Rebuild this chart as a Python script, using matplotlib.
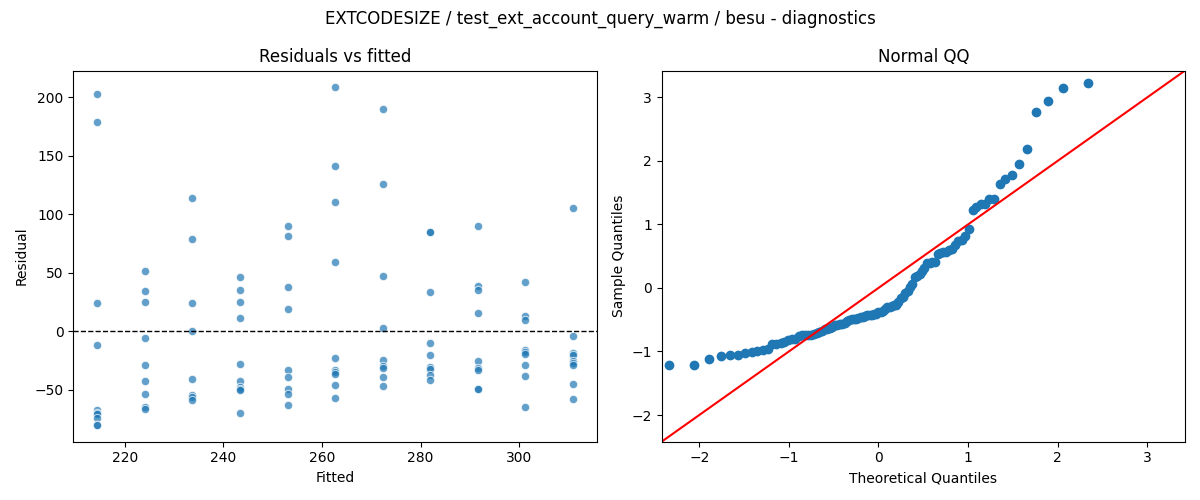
"""Residual diagnostics for EXTCODESIZE / besu: residuals vs fitted and normal QQ."""

from statistics import NormalDist

import matplotlib

matplotlib.use("Agg")
import matplotlib.pyplot as plt
import numpy as np

# Fitted value of each group (one per input level)
fitted_levels = [214.4, 224.1, 233.7, 243.3, 253.1, 262.7, 272.4, 281.9, 291.7, 301.2, 310.9]

# Residuals, one list per fitted level
resid_groups = [
    [203.0, 179.0, 24.4, -11.8, -67.0, -69.5, -71.0, -74.0, -80.0, -80.0],
    [51.6, 34.6, 25.2, -5.8, -28.9, -42.5, -53.6, -65.0, -66.2],
    [113.8, 78.9, 24.4, 0.0, -40.8, -54.5, -56.5, -58.5],
    [46.5, 35.5, 25.2, 11.6, -28.0, -42.5, -47.7, -49.1, -50.6, -69.9],
    [90.0, 81.4, 38.0, 19.3, -33.2, -39.1, -49.1, -53.4, -63.0],
    [208.2, 141.0, 110.4, 59.3, -22.9, -33.5, -35.0, -36.5, -46.0, -57.0],
    [189.5, 125.7, 47.4, 3.0, -24.3, -30.0, -31.2, -39.1, -47.0],
    [85.0, 84.6, 33.2, -10.1, -20.3, -30.9, -32.3, -37.4, -41.7],
    [90.0, 38.9, 35.5, 15.9, -25.5, -31.7, -33.1, -49.4, -49.4],
    [42.3, 12.8, 9.9, -15.8, -18.1, -19.8, -28.9, -38.3, -64.7],
    [105.2, -4.1, -18.6, -20.1, -25.8, -27.2, -28.9, -45.1, -57.9],
]

fitted = np.concatenate([[f] * len(g) for f, g in zip(fitted_levels, resid_groups)])
resid = np.concatenate([np.array(g) for g in resid_groups])

# QQ: standardized residuals against normal quantiles
sample_q = np.sort((resid - resid.mean()) / resid.std(ddof=1))
n = len(sample_q)
theo_q = np.array([NormalDist().inv_cdf(i / (n + 1)) for i in range(1, n + 1)])
QQ_LIMS = [-2.42, 3.42]

fig, (ax1, ax2) = plt.subplots(1, 2, figsize=(12, 5), dpi=100)

ax1.scatter(fitted, resid, s=36, color="#1f77b4", alpha=0.7, edgecolors="white", linewidths=0.75)
ax1.axhline(0, color="black", linestyle="--", linewidth=1)
ax1.set_title("Residuals vs fitted")
ax1.set_xlabel("Fitted")
ax1.set_ylabel("Residual")

ax2.plot(theo_q, sample_q, "o", color="#1f77b4")
ax2.plot(QQ_LIMS, QQ_LIMS, "r")
ax2.set_xlim(QQ_LIMS)
ax2.set_ylim(QQ_LIMS)
ax2.set_title("Normal QQ")
ax2.set_xlabel("Theoretical Quantiles")
ax2.set_ylabel("Sample Quantiles")

fig.suptitle("EXTCODESIZE / test_ext_account_query_warm / besu - diagnostics")
fig.tight_layout()
fig.savefig("out.png")
